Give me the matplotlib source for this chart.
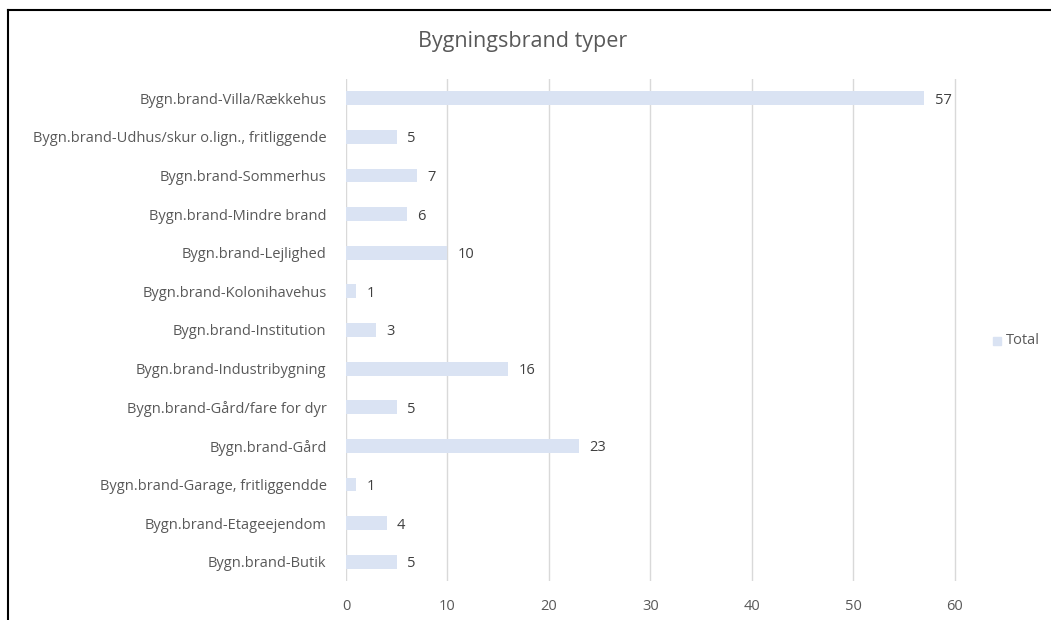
import numpy as np
import matplotlib.pyplot as plt
from matplotlib.lines import Line2D
from matplotlib.patches import Rectangle

plt.rcParams['font.family'] = ['Open Sans', 'DejaVu Sans']

kategorier = ['Bygn.brand-Villa/Rækkehus',
              'Bygn.brand-Udhus/skur o.lign., fritliggende',
              'Bygn.brand-Sommerhus',
              'Bygn.brand-Mindre brand',
              'Bygn.brand-Lejlighed',
              'Bygn.brand-Kolonihavehus',
              'Bygn.brand-Institution',
              'Bygn.brand-Industribygning',
              'Bygn.brand-Gård/fare for dyr',
              'Bygn.brand-Gård',
              'Bygn.brand-Garage, fritliggendde',
              'Bygn.brand-Etageejendom',
              'Bygn.brand-Butik']
antal = [57, 5, 7, 6, 10, 1, 3, 16, 5, 23, 1, 4, 5]
xticks = [0, 10, 20, 30, 40, 50, 60]

tekst = '#595959'
farve = '#DAE3F3'
fs = 10.5
fig = plt.figure(figsize=(10.51, 6.2), dpi=100)
ax = fig.add_axes([346/1051, 39/620, 614/1051, 502/620])

y = np.arange(len(kategorier))[::-1]
bars = ax.barh(y, antal, height=0.36, color=farve, zorder=2)
for b, v in zip(bars, antal):
    ax.text(b.get_width() + 1.0, b.get_y() + b.get_height()/2, str(v),
            va='center_baseline', ha='left', fontsize=fs, color='#404040', clip_on=False)

ax.set_yticks(y)
ax.set_yticklabels(kategorier, fontsize=fs, color=tekst)
ax.set_xticks(xticks)
ax.set_xticklabels([str(t) for t in xticks], fontsize=fs, color=tekst)
ax.set_xlim(0, 60.5)
ax.set_ylim(-0.5, len(kategorier) - 0.5)
ax.tick_params(axis='y', length=0, pad=14)
ax.tick_params(axis='x', length=0, pad=13)
ax.grid(axis='x', color='#D9D9D9', linewidth=1, zorder=0)
for s in ax.spines.values():
    s.set_visible(False)

fig.text(523/1051, 1 - 42/620, 'Bygningsbrand typer', ha='center', va='center',
         fontsize=15.5, color=tekst)

# forklaring
fig.add_artist(Rectangle((993/1051, 1 - 345/620), 8/1051, 8/620, color=farve))
fig.text(1006/1051, 1 - 341/620, 'Total', ha='left', va='center', fontsize=fs, color=tekst)

# ramme
fig.add_artist(Line2D([8/1051, 1], [1 - 10/620, 1 - 10/620], color='black', linewidth=1.5))
fig.add_artist(Line2D([8/1051, 8/1051], [0, 1 - 10/620], color='black', linewidth=1.5))

fig.savefig('out.png', dpi=100)
